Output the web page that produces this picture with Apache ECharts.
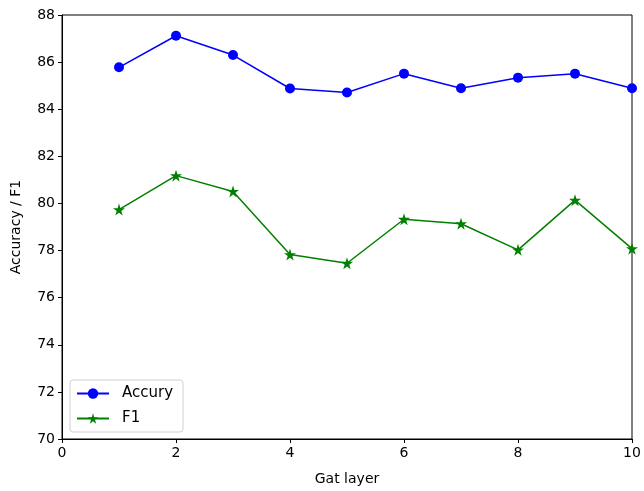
<!DOCTYPE html>
<html><head><meta charset="utf-8">
<script src="https://cdn.jsdelivr.net/npm/echarts@6/dist/echarts.min.js"></script>
<style>html,body{margin:0;padding:0;background:#fff}#c{width:644px;height:491px}</style>
</head><body><div id="c"></div>
<script>
const layers = [1,2,3,4,5,6,7,8,9,10];
const accuracy = [85.78,87.12,86.30,84.88,84.71,85.51,84.89,85.34,85.51,84.89];
const f1 = [79.74,81.18,80.51,77.83,77.46,79.33,79.14,78.03,80.14,78.08];
const star = 'path://M50,0 L61.2,34.5 L97.6,34.5 L68.2,55.9 L79.4,90.5 L50,69.1 L20.6,90.5 L31.8,55.9 L2.4,34.5 L38.8,34.5 Z';
const font = 'DejaVu Sans';
const chart = echarts.init(document.getElementById('c'));
chart.setOption({
  animation:false,
  textStyle:{fontFamily:font},
  grid:{left:62,right:12,top:15,bottom:51,show:true,borderColor:'#000',borderWidth:1,backgroundColor:'transparent'},
  legend:{
    orient:'vertical',left:70,top:380,
    itemWidth:32,itemHeight:13,itemGap:10,
    padding:[6,10,6,6],
    borderColor:'#d0d0d0',borderWidth:1,borderRadius:3,backgroundColor:'rgba(255,255,255,0.8)',
    textStyle:{fontFamily:font,fontSize:15,color:'#000',padding:[0,0,0,8]},
    data:['Accury','F1']
  },
  xAxis:{
    type:'value',min:0,max:10,interval:2,
    name:'Gat layer',nameLocation:'middle',nameGap:33,
    nameTextStyle:{fontFamily:font,fontSize:14,color:'#000'},
    axisLine:{show:true,lineStyle:{color:'#000',width:1}},
    axisTick:{show:true,inside:false,length:4,lineStyle:{color:'#000'}},
    axisLabel:{fontFamily:font,fontSize:14,color:'#000',margin:7},
    splitLine:{show:false}
  },
  yAxis:{
    type:'value',min:70,max:88,interval:2,
    name:'Accuracy / F1',nameLocation:'middle',nameGap:39,
    nameTextStyle:{fontFamily:font,fontSize:14,color:'#000'},
    axisLine:{show:true,lineStyle:{color:'#000',width:1}},
    axisTick:{show:true,inside:false,length:4,lineStyle:{color:'#000'}},
    axisLabel:{fontFamily:font,fontSize:14,color:'#000',margin:7},
    splitLine:{show:false}
  },
  series:[
    {name:'Accury',type:'line',data:layers.map((x,i)=>[x,accuracy[i]]),
     symbol:'circle',symbolSize:10,
     lineStyle:{color:'#0000ff',width:1.5},itemStyle:{color:'#0000ff'}},
    {name:'F1',type:'line',data:layers.map((x,i)=>[x,f1[i]]),
     symbol:star,symbolSize:12,
     lineStyle:{color:'#008000',width:1.5},itemStyle:{color:'#008000'}}
  ]
});
</script></body></html>
